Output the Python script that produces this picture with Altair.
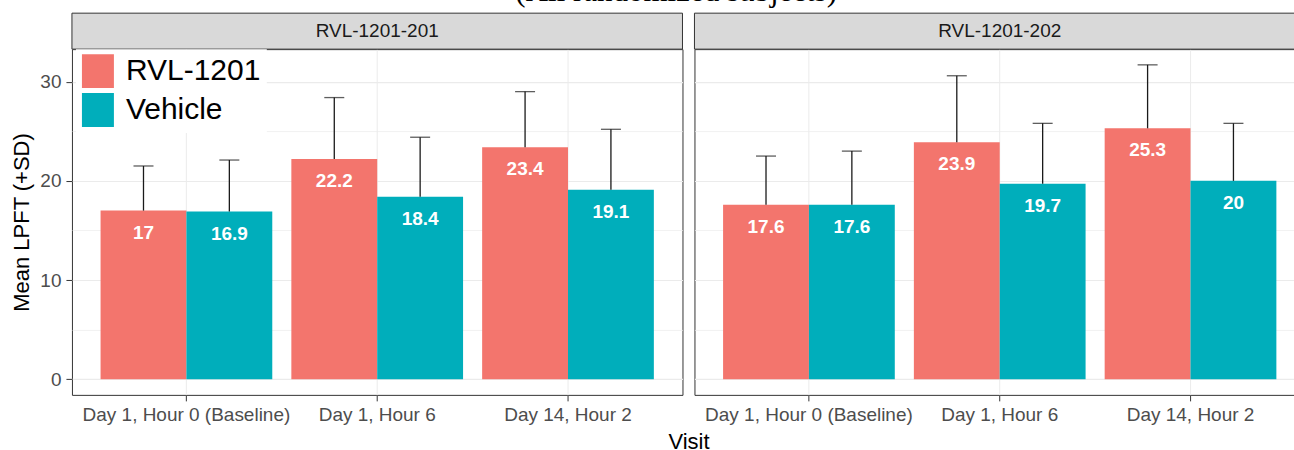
import altair as alt
import pandas as pd

# Visits on the x axis, treatment groups and the two studies (one panel each)
visits = ["Day 1, Hour 0 (Baseline)", "Day 1, Hour 6", "Day 14, Hour 2"]
groups = ["RVL-1201", "Vehicle"]
group_colors = ["#F3756D", "#00AEBB"]
studies = ["RVL-1201-201", "RVL-1201-202"]

# Mean LPFT and standard deviation per visit
mean_201_rvl = [17.0, 22.2, 23.4]
sd_201_rvl = [4.5, 6.2, 5.6]
mean_201_veh = [16.9, 18.4, 19.1]
sd_201_veh = [5.2, 6.0, 6.1]

mean_202_rvl = [17.6, 23.9, 25.3]
sd_202_rvl = [4.9, 6.7, 6.4]
mean_202_veh = [17.6, 19.7, 20.0]
sd_202_veh = [5.4, 6.1, 5.8]

y_breaks = [0, 5, 10, 15, 20, 25, 30]

series = [
    (studies[0], groups[0], mean_201_rvl, sd_201_rvl),
    (studies[0], groups[1], mean_201_veh, sd_201_veh),
    (studies[1], groups[0], mean_202_rvl, sd_202_rvl),
    (studies[1], groups[1], mean_202_veh, sd_202_veh),
]
rows = []
for study, group, means, sds in series:
    for visit, m, s in zip(visits, means, sds):
        rows.append({"study": study, "visit": visit, "group": group,
                     "mean": m, "hi": round(m + s, 2), "label": f"{m:g}"})
df = pd.DataFrame(rows)

# Fixed y scale shared by both panels, expanded by 5% like ggplot
y_top = df["hi"].max()
y_domain = [-0.05 * y_top, 1.05 * y_top]

PANEL_W, PANEL_H = 611, 346
GAP = 12
STRIP_H = 36
FONT = "Liberation Sans"
MAJOR = "datum.value % 10 === 0"


def panel(study, first):
    d = df[df["study"] == study]

    x_axis = alt.Axis(
        title="Visit" if first else None,
        titleX=PANEL_W + GAP / 2, titleAlign="center", titleFontSize=22,
        titleFontWeight="normal", titleColor="black", titlePadding=7,
        labelFontSize=19, labelColor="#4D4D4D", labelPadding=5, labelAngle=0, labelLimit=0,
        tickSize=6, tickColor="#333333", bandPosition=0.5,
        domain=False, grid=True, gridColor="#EBEBEB", gridWidth=1,
    )
    y_axis = alt.Axis(
        title="Mean LPFT (+SD)" if first else None,
        values=y_breaks,
        labels=first, ticks=first, domain=False,
        labelExpr=f"{MAJOR} ? datum.label : ''",
        labelFontSize=19, labelColor="#4D4D4D", labelPadding=5,
        tickSize=6, tickColor="#333333",
        tickOpacity={"condition": {"test": MAJOR, "value": 1}, "value": 0},
        titleFontSize=22, titleFontWeight="normal", titleColor="black", titlePadding=6,
        grid=True, gridColor="#EBEBEB",
        gridWidth={"condition": {"test": MAJOR, "value": 1.1}, "value": 0.7},
    )

    x = alt.X("visit:N", sort=visits, axis=x_axis,
              scale=alt.Scale(paddingInner=0.1, paddingOuter=0.15))
    xo = alt.XOffset("group:N", sort=groups)
    y = alt.Y("mean:Q", axis=y_axis, scale=alt.Scale(domain=y_domain, nice=False, zero=False))

    legend = None
    if first:
        legend = alt.Legend(
            title=None, orient="none", legendX=4, legendY=0,
            fillColor="white", padding=6,
            symbolType="M-1,-1.0625H1V1.0625H-1Z", symbolSize=1024,
            symbolStrokeWidth=0, symbolOpacity=1,
            labelFontSize=30, labelFont=FONT, labelColor="black",
            labelOffset=12, rowPadding=5, labelLimit=0,
        )
    color = alt.Color("group:N", scale=alt.Scale(domain=groups, range=group_colors), legend=legend)

    base = alt.Chart(d)
    bars = base.mark_bar().encode(x=x, xOffset=xo, y=y, color=color)
    whisker = base.mark_rule(color="#1A1A1A", strokeWidth=1.3).encode(
        x=x, xOffset=xo, y="mean:Q", y2="hi:Q")
    caps = base.mark_tick(orient="horizontal", size=20, thickness=1.3, color="#1A1A1A").encode(
        x=x, xOffset=xo, y="hi:Q")
    labels = base.mark_text(color="white", fontWeight="bold", fontSize=19,
                            baseline="middle", dy=22).encode(
        x=x, xOffset=xo, y="mean:Q", text="label:N")

    strip_df = pd.DataFrame({"study": [study]})
    strip = alt.Chart(strip_df).mark_rect(fill="#D9D9D9", stroke="#333333", strokeWidth=1).encode(
        x=alt.value(0), x2=alt.value(PANEL_W), y=alt.value(-STRIP_H), y2=alt.value(0))
    strip_text = alt.Chart(strip_df).mark_text(fontSize=19, color="#1A1A1A", baseline="middle").encode(
        text="study:N", x=alt.value(PANEL_W / 2), y=alt.value(-STRIP_H / 2))

    return alt.layer(bars, whisker, caps, labels, strip, strip_text).properties(
        width=PANEL_W, height=PANEL_H)


chart = alt.hconcat(
    panel(studies[0], True), panel(studies[1], False), spacing=GAP, bounds="flush"
).resolve_legend(
    color="independent"
).properties(
    title=alt.TitleParams("(All randomized subjects)", font="Liberation Serif", fontSize=31,
                          fontWeight="normal", color="black", anchor="middle",
                          dx=18, offset=4.5),
    padding={"left": 10, "top": -25, "right": -12, "bottom": -2},
).configure(font=FONT, background="white").configure_view(stroke="#333333", strokeWidth=1)

chart.save("out.html", embed_options={"renderer": "svg", "actions": False})
